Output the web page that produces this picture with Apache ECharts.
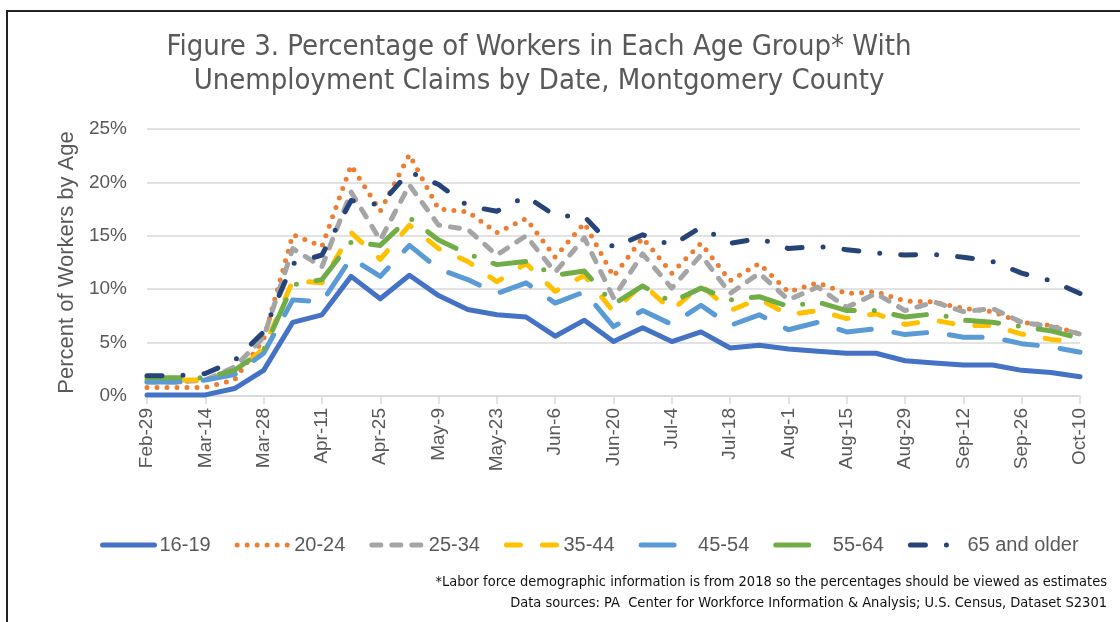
<!DOCTYPE html>
<html>
<head>
<meta charset="utf-8">
<title>Figure 3</title>
<script src="https://cdn.jsdelivr.net/npm/echarts@6/dist/echarts.min.js"></script>
<style>
    html, body { margin: 0; padding: 0; background: #fff; }
    #main { width: 1120px; height: 622px; }
</style>
</head>
<body>
<div id="main"></div>
<script>
// weekly dates
var dates = ['Feb-29','Mar-7','Mar-14','Mar-21','Mar-28','Apr-4','Apr-11','Apr-18','Apr-25','May-2','May-9',
    'May-16','May-23','May-30','Jun-6','Jun-13','Jun-20','Jun-27','Jul-4','Jul-11','Jul-18','Jul-25',
    'Aug-1','Aug-8','Aug-15','Aug-22','Aug-29','Sep-5','Sep-12','Sep-19','Sep-26','Oct-3','Oct-10'];

// percent of workers with claims, per age group
var age16_19 = [0.1,0.1,0.1,0.7,2.4,6.9,7.6,11.2,9.1,11.3,9.4,8.1,7.6,7.4,5.6,7.1,5.1,6.4,5.1,6.0,4.5,4.75,4.4,4.2,4.0,4.0,3.3,3.1,2.9,2.9,2.4,2.2,1.8];
var age20_24 = [0.8,0.8,0.8,1.5,5.3,15.1,14.0,21.6,17.3,22.6,17.5,17.25,15.3,16.6,13.0,16.2,11.2,14.8,11.5,14.3,10.8,12.4,9.75,10.6,9.6,9.75,8.9,8.8,8.2,7.9,6.9,6.6,5.8];
var age25_34 = [1.3,1.3,1.5,2.7,5.5,13.8,12.1,19.1,14.6,19.75,16.0,15.6,13.2,15.0,11.6,14.8,9.2,13.3,10.1,13.2,9.6,11.5,9.0,10.2,8.3,9.6,8.0,8.8,7.9,8.2,6.9,6.5,5.8];
var age35_44 = [1.5,1.5,1.5,2.25,4.4,10.8,10.6,15.3,12.8,16.0,13.8,12.6,10.7,12.4,9.8,11.3,7.9,10.5,8.0,10.4,8.0,9.1,7.6,8.0,7.25,7.7,6.7,7.1,6.6,6.6,5.8,5.3,5.0];
var age45_54 = [1.3,1.3,1.5,2.0,4.0,9.0,8.8,12.9,11.2,14.1,11.9,10.9,9.6,10.6,8.7,9.75,6.5,8.0,6.7,8.5,6.6,7.6,6.2,6.9,6.0,6.3,5.75,6.0,5.5,5.5,4.9,4.6,4.1];
var age55_64 = [1.7,1.7,1.7,2.4,4.3,10.4,10.9,14.4,14.1,16.7,14.6,13.3,12.3,12.6,11.3,11.7,8.6,10.3,8.8,10.1,9.0,9.3,8.4,8.8,8.0,8.0,7.4,7.7,7.1,6.9,6.5,6.1,5.4];
var age65up = [1.9,1.9,2.1,3.3,6.0,12.4,13.2,18.3,17.9,21.0,19.8,17.8,17.3,18.7,16.9,16.8,13.9,15.1,14.1,15.8,14.3,14.75,13.8,14.0,13.7,13.4,13.2,13.25,13.0,12.6,11.5,10.8,9.6];

var narrow = "'Liberation Sans Narrow', 'DejaVu Sans Condensed', 'Liberation Sans', sans-serif";
var plain = "'Liberation Sans', Arial, sans-serif";

function makeLine(name, data, color, dash) {
    return {
        name: name,
        type: 'line',
        data: data,
        symbol: 'none',
        smooth: false,
        lineStyle: { color: color, width: 5, type: dash, cap: 'round', join: 'round' },
        itemStyle: { color: color }
    };
}

var chartDom = document.getElementById('main');
var myChart = echarts.init(chartDom, null, { renderer: 'canvas' });

var option = {
    backgroundColor: '#fff',
    animation: false,
    title: {
        text: 'Figure 3. Percentage of Workers in Each Age Group* With\nUnemployment Claims by Date, Montgomery County',
        left: 534,
        top: 25,
        textAlign: 'center',
        textStyle: { fontFamily: narrow, fontSize: 29, fontWeight: 'normal', color: '#595959', lineHeight: 34 }
    },
    graphic: [
        // outer frame
        { type: 'rect', shape: { x: 7, y: 11, width: 1300, height: 800 }, style: { fill: null, stroke: '#222', lineWidth: 2 } },
        // footnotes
        {
            type: 'text', right: 13, top: 575,
            style: {
                text: '*Labor force demographic information is from 2018 so the percentages should be viewed as estimates',
                fontFamily: narrow, fontSize: 14.5, fill: '#111'
            }
        },
        {
            type: 'text', right: 13, top: 596,
            style: {
                text: 'Data sources: PA  Center for Workforce Information & Analysis; U.S. Census, Dataset S2301',
                fontFamily: narrow, fontSize: 14.5, fill: '#111'
            }
        }
    ],
    legend: {
        left: 95,
        top: 530,
        itemWidth: 52,
        itemHeight: 14,
        itemGap: 24,
        itemStyle: { opacity: 0 },
        lineStyle: { width: 5, cap: 'round' },
        textStyle: { fontFamily: plain, fontSize: 20, color: '#595959' },
        data: ['16-19','20-24','25-34','35-44','45-54','55-64','65 and older']
    },
    grid: { left: 147, right: 40, top: 129, bottom: 226 },
    xAxis: {
        type: 'category',
        data: dates,
        boundaryGap: false,
        axisLine: { lineStyle: { color: '#D9D9D9', width: 1.5 } },
        axisTick: { show: true, interval: 1, length: 8, lineStyle: { color: '#D9D9D9', width: 1.5 } },
        axisLabel: { interval: 1, rotate: 90, margin: 12, fontFamily: plain, fontSize: 19, color: '#595959' }
    },
    yAxis: {
        type: 'value',
        min: 0,
        max: 25,
        interval: 5,
        name: 'Percent of Workers by Age',
        nameLocation: 'middle',
        nameGap: 68,
        nameTextStyle: { fontFamily: plain, fontSize: 22, color: '#595959' },
        axisLine: { show: false },
        axisTick: { show: false },
        axisLabel: { formatter: '{value}%', margin: 20, fontFamily: plain, fontSize: 19, color: '#595959' },
        splitLine: { lineStyle: { color: '#D9D9D9', width: 1.5 } }
    },
    series: [
        makeLine('16-19', age16_19, '#4472C4', 'solid'),
        makeLine('20-24', age20_24, '#ED7D31', [0, 10]),
        makeLine('25-34', age25_34, '#A5A5A5', [9, 11]),
        makeLine('35-44', age35_44, '#FFC000', [14, 22]),
        makeLine('45-54', age45_54, '#5B9BD5', [33, 23]),
        makeLine('55-64', age55_64, '#70AD47', [33, 20, 0, 20]),
        makeLine('65 and older', age65up, '#264478', [15, 21, 0, 21])
    ]
};

myChart.setOption(option);
</script>
</body>
</html>
